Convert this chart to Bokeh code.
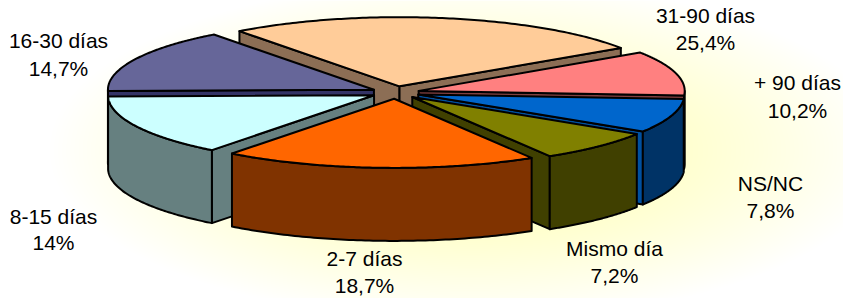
import numpy as np
from bokeh.plotting import figure
from bokeh.models import Range1d
from bokeh.embed import file_html
from bokeh.resources import INLINE
from bokeh.core.properties import value

# ---------------- data ----------------
categories = ["31-90 días", "+ 90 días", "NS/NC", "Mismo día", "2-7 días", "8-15 días", "16-30 días"]
percent_labels = ["25,4%", "10,2%", "7,8%", "7,2%", "18,7%", "14%", "14,7%"]
values = [25.4, 10.2, 7.8, 7.2, 18.7, 14.0, 14.7]

# ---------------- style ----------------
top_colors = ["#FFCC99", "#FF8080", "#0066CC", "#808000", "#FF6600", "#CCFFFF", "#666699"]
wall_colors = ["#8C6E55", "#804040", "#003366", "#404000", "#803300", "#668080", "#333366"]
cut_colors = ["#8C6E55", "#804040", "#0050A0", "#404000", "#803300", "#668080", "#333366"]

# ---------------- layout ----------------
W, HT = 843, 298
CX, CY = 395.0, 92.0          # pie centre
R, K, E, DEPTH = 266.0, 0.26, 24.0, 73.0
START = 127.0                 # first slice edge angle (deg), slices run clockwise
TEXT_SHIFT = 8                # renderer draws text a little below its anchor
# label anchor: (x centre, baseline of line 1, baseline of line 2)
label_pos = [(705, 23, 50), (797, 90, 118), (770, 191, 218), (614, 256, 283),
             (364, 266, 293), (53, 224, 250), (58, 48, 76)]

p = figure(width=W, height=HT, output_backend="svg", toolbar_location=None,
           x_range=Range1d(0, W), y_range=Range1d(HT, 0),
           min_border=0, outline_line_color=None)
p.axis.visible = False
p.grid.visible = False
p.background_fill_color = "white"
p.border_fill_color = "white"

# background: soft pale-yellow radial gradient
gx = np.arange(W) + 0.5
gy = np.arange(HT) + 0.5
GX, GY = np.meshgrid(gx, gy)
d = np.sqrt(((GX - 470) / 420.0) ** 2 + ((GY - 150) / 170.0) ** 2)
b = np.clip(175 + 80 * np.clip(d, 0, 1) ** 1.3, 0, 255).astype(np.uint32)
img = ((255 << 24) | (b << 16) | (255 << 8) | 255).astype(np.uint32)
p.image_rgba(image=[img], x=0, y=0, dw=W, dh=HT)

total = float(sum(values))
spans = [v / total * 360.0 for v in values]
bounds = START - np.concatenate([[0.0], np.cumsum(spans)])


def proj(u, v, drop=0.0):
    return CX + u, CY - K * v + drop


slices = []
for i in range(len(values)):
    ts, te = bounds[i], bounds[i + 1]
    beta = np.radians((ts + te) / 2.0)
    ou, ov = E * np.cos(beta), E * np.sin(beta)
    pieces = []
    ax_, ay_ = proj(ou, ov)
    # radial cut faces that face the viewer
    for th, vis in ((ts, np.cos(np.radians(ts)) < 0), (te, np.cos(np.radians(te)) > 0)):
        if vis:
            t = np.radians(th)
            rx, ry = proj(ou + R * np.cos(t), ov + R * np.sin(t))
            pieces.append(([ax_, rx, rx, ax_], [ay_, ry, ry + DEPTH, ay_ + DEPTH], cut_colors[i]))
    # outer wall (front half only)
    a, bnd = max(te, -180.0), min(ts, 0.0)
    if bnd > a:
        th = np.radians(np.linspace(bnd, a, 80))
        xs, ys = proj(ou + R * np.cos(th), ov + R * np.sin(th))
        wx = list(xs) + list(xs[::-1])
        wy = list(ys) + list((ys + DEPTH)[::-1])
        pieces.append((wx, wy, wall_colors[i]))
    # top face
    th = np.radians(np.linspace(ts, te, 120))
    xs, ys = proj(ou + R * np.cos(th), ov + R * np.sin(th))
    pieces.append(([ax_] + list(xs), [ay_] + list(ys), top_colors[i]))
    slices.append((np.sin(beta), pieces))

# painter's order: back slices first
slices.sort(key=lambda s: -s[0])
all_x, all_y, all_c = [], [], []
for _, pieces in slices:
    for xs, ys, c in pieces:
        all_x.append(list(xs))
        all_y.append(list(ys))
        all_c.append(c)

p.patches(xs=all_x, ys=all_y, fill_color=all_c, line_color="black",
          line_width=2, line_join="round")

lx = [lp[0] for lp in label_pos]
p.text(x=lx, y=[lp[1] - TEXT_SHIFT for lp in label_pos], text=categories,
       text_align="center", text_baseline="alphabetic",
       text_font=value("Liberation Sans"), text_font_size="21px", text_color="black")
p.text(x=lx, y=[lp[2] - TEXT_SHIFT for lp in label_pos], text=percent_labels,
       text_align="center", text_baseline="alphabetic",
       text_font=value("Liberation Sans"), text_font_size="21px", text_color="black")

open("out.html", "w").write(file_html(p, INLINE))
